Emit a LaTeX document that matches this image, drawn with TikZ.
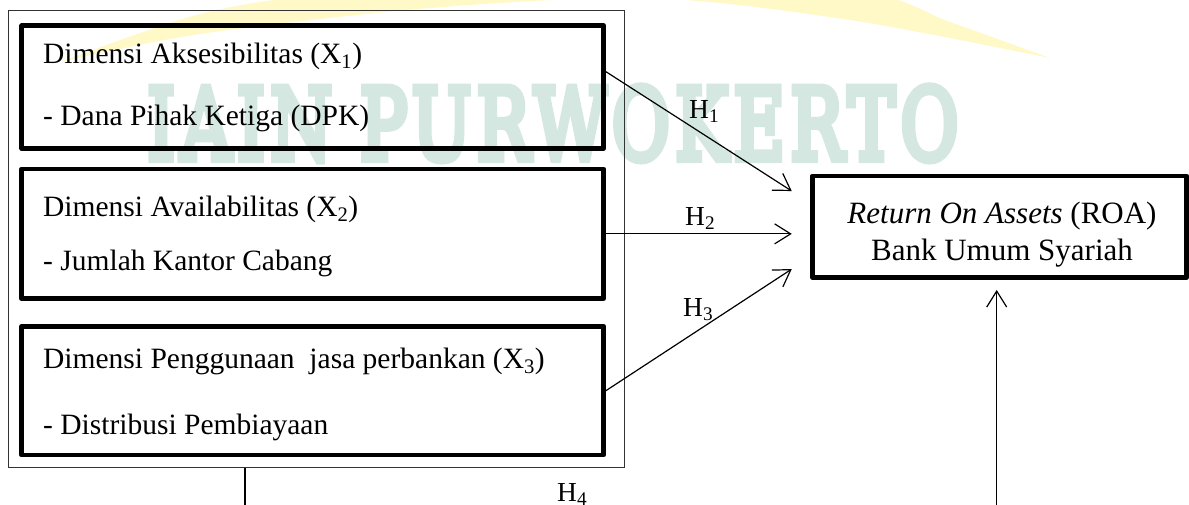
\documentclass[tikz,border=0pt]{standalone}
\usepackage{fontspec}
\setmainfont{Liberation Serif}
\newfontfamily\wmfont{DejaVu Serif}[FakeBold=8,LetterSpace=8]
\usetikzlibrary{arrows.meta}
\definecolor{wmteal}{RGB}{212,232,225}
\definecolor{wmyellow}{RGB}{255,249,200}
\begin{document}
\begin{tikzpicture}[x=1pt,y=-1pt,
  thickbox/.style={draw=black,line width=4.5pt,line join=round,minimum width=582pt,inner sep=0pt},
  outerbox/.style={draw=black!80,line width=0.9pt,inner sep=0pt},
  lbl/.style={anchor=base west,inner sep=0pt,font=\fontsize{29.5}{33}\selectfont},
  hlbl/.style={anchor=base west,inner sep=0pt,font=\fontsize{27.5}{31}\selectfont},
  clbl/.style={anchor=base,inner sep=0pt,font=\fontsize{31}{35}\selectfont},
  conn/.style={draw=black,line width=1.2pt,-{Straight Barb[length=16pt,width=20pt]}},
  plain/.style={draw=black,line width=1.2pt}
]
\useasboundingbox (0,0) rectangle (1189,504);
\fill[white] (0,0) rectangle (1189,504);
% watermark
\fill[wmyellow] plot[smooth] coordinates {(60,62) (200,34) (430,8) (650,-2) (850,20) (1050,58)}
  -- plot[smooth] coordinates {(1050,58) (950,22) (860,-8) (600,-20) (330,-6) (200,14) (60,62)} -- cycle;
\node[anchor=north west,inner sep=0pt,text=wmteal] (wm) at (147,86)
  {\resizebox{811pt}{73pt}{\wmfont IAIN PURWOKERTO}};
% boxes
\node[outerbox,minimum width=616pt,minimum height=456.8pt] (outer) at (316,239.1) {};
\node[thickbox,minimum height=122.8pt] (b1) at (312.7,87.1) {};
\node[thickbox,minimum height=129.7pt] (b2) at (312.7,233.85) {};
\node[thickbox,minimum height=128.7pt] (b3) at (312.7,390.65) {};
\node[thickbox,minimum width=374.4pt,minimum height=101.3pt] (roa) at (999.5,226.65) {};
% texts
\node[lbl] (t1a) at (43,63) {Dimensi Aksesibilitas (X\textsubscript{1})};
\node[lbl] (t1b) at (43,125) {- Dana Pihak Ketiga (DPK)};
\node[lbl] (t2a) at (43,216) {Dimensi Availabilitas (X\textsubscript{2})};
\node[lbl] (t2b) at (43,270) {- Jumlah Kantor Cabang};
\node[lbl] (t3a) at (43,368) {Dimensi Penggunaan\ \ jasa perbankan (X\textsubscript{3})};
\node[lbl] (t3b) at (43,434) {- Distribusi Pembiayaan};
\node[clbl] (r1) at (1002,223) {\textit{Return On Assets} (ROA)};
\node[clbl] (r2) at (1002,260) {Bank Umum Syariah};
% connectors
\coordinate (h1s) at ([yshift=15.4pt]b1.east);
\coordinate (h1e) at ([xshift=-18.3pt,yshift=35.6pt]roa.west);
\coordinate (h2e) at ([xshift=-18.3pt]roa.west);
\coordinate (h3e) at ([xshift=-18.3pt,yshift=-42.4pt]roa.west);
\coordinate (v2s) at (996.7,515);
\coordinate (v2e) at ([xshift=-2.8pt,yshift=-10.4pt]roa.south);
\coordinate (v1e) at (245,515);
\draw[conn] (h1s) -- (h1e);
\draw[conn] (b2.east) -- (b2.east -| h2e);
\draw[conn] (b3.east) -- (h3e);
\draw[conn] (v2s) -- (v2e);
\draw[plain] (outer.south -| v1e) -- (v1e);
% labels
\node[hlbl] (lh1) at (689,118) {H\textsubscript{1}};
\node[hlbl] (lh2) at (685,225) {H\textsubscript{2}};
\node[hlbl] (lh3) at (683,316) {H\textsubscript{3}};
\node[hlbl] (lh4) at (557,501) {H\textsubscript{4}};
\end{tikzpicture}
\end{document}
